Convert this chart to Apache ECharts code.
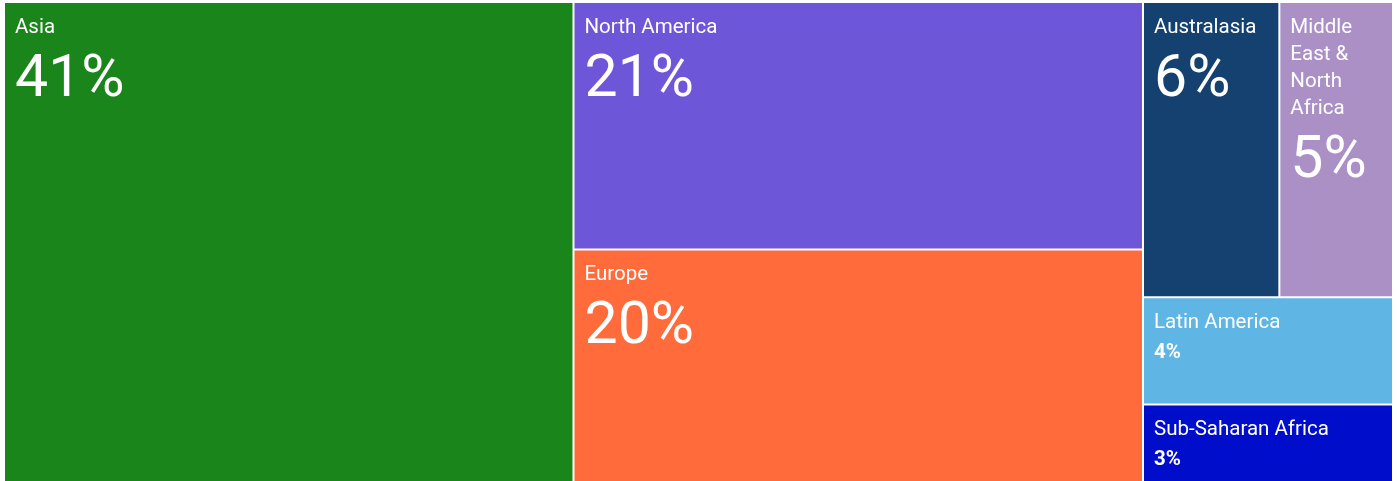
<!DOCTYPE html>
<html>
<head>
<meta charset="utf-8">
<script src="https://cdn.jsdelivr.net/npm/echarts@6/dist/echarts.min.js"></script>
<style>
  html, body { margin: 0; padding: 0; background: #fff; }
  #chart { width: 1397px; height: 481px; }
</style>
</head>
<body>
<div id="chart"></div>
<script>
// regions and share of total (%)
const regions = ['Asia', 'North America', 'Europe', 'Australasia', 'Middle East & North Africa', 'Latin America', 'Sub-Saharan Africa']
const shares = [41, 21, 20, 6, 5, 4, 3]
const palette = ['#1a851a', '#6e56d9', '#ff6b3a', '#154170', '#ab90c6', '#5fb6e4', '#000ecc']
// tiles that are too short for the big number
const smallLabel = ['Latin America', 'Sub-Saharan Africa']

const chart = echarts.init(document.getElementById('chart'))

const data = regions.map((name, i) => ({
  name: name,
  value: shares[i],
  itemStyle: { color: palette[i] }
}))

chart.setOption({
  series: [{
    type: 'treemap',
    left: 5,
    top: 3,
    width: 1387,
    height: 481,
    roam: false,
    nodeClick: false,
    animation: false,
    breadcrumb: { show: false },
    levels: [{
      itemStyle: { gapWidth: 2, borderWidth: 0 }
    }, {
      itemStyle: { borderWidth: 0, gapWidth: 0 }
    }],
    label: {
      show: true,
      position: 'insideTopLeft',
      padding: [11, 0, 0, 10],
      overflow: 'none',
      color: '#fff',
      fontFamily: 'Roboto',
      formatter: p => {
        // long names wrap word by word in the narrow tile ("East &" stays together)
        const name = p.name.length > 20 ? p.name.replace(/ (?!&)/g, '\n') : p.name
        const style = smallLabel.includes(p.name) ? 'small' : 'big'
        return '{name|' + name.split('\n').join('}\n{name|') + '}\n{' + style + '|' + p.value + '%}'
      },
      rich: {
        name: { fontSize: 20.5, lineHeight: 27, color: '#fff', fontFamily: 'Roboto' },
        big: { fontSize: 59, lineHeight: 80, color: '#fff', fontFamily: 'Roboto' },
        small: { fontSize: 20.5, lineHeight: 33, color: '#fff', fontWeight: 'bold', fontFamily: 'Roboto' }
      }
    },
    data: data
  }]
})
</script>
</body>
</html>
